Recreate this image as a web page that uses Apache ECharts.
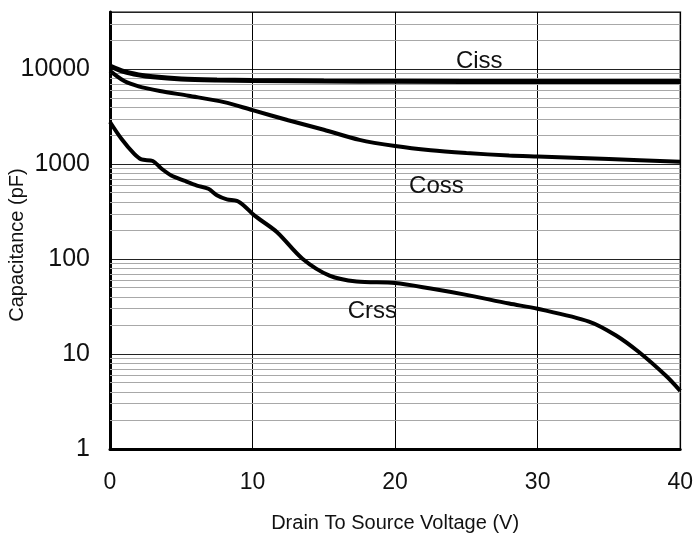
<!DOCTYPE html>
<html>
<head>
<meta charset="utf-8">
<script src="https://cdn.jsdelivr.net/npm/echarts@6/dist/echarts.min.js"></script>
<style>
  html, body { margin: 0; padding: 0; background: #fff; }
  #chart { width: 696px; height: 538px; }
</style>
</head>
<body>
<div id="chart"></div>
<script>
// Drain-source voltage (V) vs capacitance (pF)
const cissV = [0, 1, 2, 3, 5, 7.5, 10, 15, 20, 30, 40]
const cissC = [10800, 9400, 8700, 8300, 7900, 7700, 7600, 7500, 7450, 7400, 7400]

const cossV = [0, 1, 2, 3.5, 5.5, 8, 10, 12.5, 15, 17.5, 20, 22.5, 25, 28, 30, 35, 40]
const cossC = [9600, 7500, 6600, 5900, 5250, 4500, 3700, 2900, 2300, 1800, 1550, 1400, 1310, 1230, 1200, 1130, 1060]

const crssV = [0, 0.8, 1.7, 2.2, 3, 3.6, 4.3, 5.2, 6.1, 6.9, 7.5, 8.2, 8.9, 9.4, 10.1, 11.7, 13.5, 15.4, 17.3, 20, 22.5, 25, 28, 30, 33.6, 35.5, 37.1, 39, 40]
const crssC = [2780, 1850, 1280, 1120, 1080, 900, 760, 670, 595, 550, 470, 425, 410, 365, 290, 193, 101, 67, 58, 56, 49, 42, 34, 30, 22, 15.7, 10.5, 5.9, 4.1]

// curve names and where their text sits (data coords)
const curveNames = ['Ciss', 'Coss', 'Crss']
const labelV = [25.9, 22.9, 18.4]
const labelC = [12100, 577, 28]

// minor horizontal grid lines of the log axis
const minorLines = [2, 3, 4, 5, 6, 7, 8, 9, 20, 30, 40, 50, 60, 70, 80, 90,
  200, 300, 400, 500, 600, 700, 800, 900, 2000, 3000, 4000, 5000, 6000, 7000, 8000, 9000,
  20000, 30000]

const font = 'Liberation Sans, Arial, sans-serif'

function pairs(xs, ys) {
  return xs.map((x, i) => [x, ys[i]])
}

function curve(idx, xs, ys, width) {
  return {
    type: 'line',
    name: curveNames[idx],
    data: pairs(xs, ys),
    smooth: 0.3,
    showSymbol: false,
    z: 5,
    lineStyle: { color: '#000', width: width },
    markPoint: {
      silent: true,
      symbol: 'circle',
      symbolSize: 0,
      data: [{ coord: [labelV[idx], labelC[idx]] }],
      label: {
        show: true,
        position: 'inside',
        formatter: curveNames[idx],
        fontFamily: font,
        fontSize: 24,
        color: '#111'
      }
    }
  }
}

const chart = echarts.init(document.getElementById('chart'))
chart.setOption({
  animation: false,
  backgroundColor: '#fff',
  grid: {
    left: 110, top: 12, right: 14, bottom: 87,
    show: true, borderColor: '#808080', borderWidth: 2
  },
  xAxis: {
    type: 'value',
    min: 0, max: 40, interval: 10,
    name: 'Drain To Source Voltage (V)',
    nameLocation: 'middle',
    nameGap: 64,
    nameTextStyle: { fontFamily: font, fontSize: 20, color: '#111' },
    axisLine: { lineStyle: { color: '#000', width: 3 } },
    axisTick: { show: false },
    axisLabel: { fontFamily: font, fontSize: 23, color: '#111', margin: 22 },
    splitLine: { show: true, lineStyle: { color: '#000', width: 1 } }
  },
  yAxis: {
    type: 'log',
    logBase: 10,
    min: 1, max: 40000,
    axisLine: { show: true, lineStyle: { color: '#000', width: 3 } },
    axisTick: { show: false },
    axisLabel: {
      fontFamily: font, fontSize: 25, color: '#111', margin: 20, showMaxLabel: false,
      formatter: v => String(Math.round(v))
    },
    splitLine: { show: true, lineStyle: { color: '#222', width: 1 } }
  },
  graphic: [{
    type: 'text',
    x: 17, y: 245,
    rotation: Math.PI / 2,
    style: {
      text: 'Capacitance (pF)',
      font: '20px ' + font,
      fill: '#111',
      textAlign: 'center',
      textVerticalAlign: 'middle'
    }
  }],
  series: [
    {
      type: 'line',
      name: 'minor',
      data: [[0, 1]],
      showSymbol: false,
      z: 1,
      lineStyle: { opacity: 0 },
      markLine: {
        silent: true,
        symbol: ['none', 'none'],
        label: { show: false },
        lineStyle: { color: '#a8a8a8', width: 1, type: 'solid' },
        data: minorLines.map(v => ({ yAxis: v }))
      }
    },
    curve(0, cissV, cissC, 5),
    curve(1, cossV, cossC, 4),
    curve(2, crssV, crssC, 4)
  ]
})
</script>
</body>
</html>
